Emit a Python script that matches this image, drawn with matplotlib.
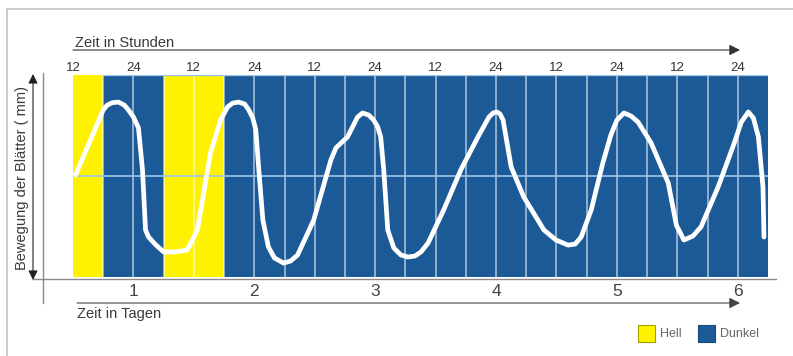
import matplotlib
matplotlib.use("Agg")
import matplotlib.pyplot as plt
from matplotlib.patches import Rectangle

plt.rcParams['font.family'] = ['Liberation Sans', 'DejaVu Sans']

# ---- data ----
hours = [12.5, 18.0, 18.8, 19.8, 21.0, 22.2, 23.0, 24.0, 25.0, 25.8, 26.4, 27.0, 28.4, 30.0,
         32.4, 34.7, 36.7, 39.3, 41.3,
         42.7, 43.7, 44.9, 46.1, 46.9, 47.7, 48.3, 48.9, 49.7, 50.8, 52.0, 53.8, 55.2, 56.6,
         59.8, 63.2, 64.2, 66.5,
         67.7, 68.5, 69.5, 70.7, 71.7, 72.5, 73.1, 73.7, 74.5, 75.7, 77.1, 78.5, 79.9, 81.1,
         82.5, 85.6, 89.0, 92.4,
         94.6, 95.4, 96.2, 96.8, 97.4, 99.0, 101.5, 105.5, 107.9, 110.3, 111.7, 112.9, 114.9,
         117.2, 118.8, 120.0,
         121.4, 122.8, 124.2, 126.8, 130.2, 131.8, 133.3, 135.1, 136.7, 140.1, 143.3, 144.7,
         146.1, 147.1, 148.1, 149.0, 149.2]
movement = [5.05, 8.27, 8.51, 8.63, 8.66, 8.51, 8.27, 7.92, 7.38, 5.30, 2.33, 1.98, 1.60, 1.24,
            1.24, 1.34, 2.33, 6.14, 7.77,
            8.42, 8.61, 8.66, 8.56, 8.27, 7.87, 7.28, 5.30, 2.82, 1.49, 0.94, 0.69, 0.79, 1.09,
            2.82, 5.79, 6.39, 6.93,
            7.52, 7.92, 8.12, 8.02, 7.77, 7.43, 6.93, 5.30, 2.33, 1.44, 1.09, 0.99, 1.04, 1.24,
            1.68, 3.32, 5.30, 6.93,
            7.92, 8.12, 8.17, 8.07, 7.77, 5.45, 3.96, 2.33, 1.83, 1.58, 1.63, 1.98, 3.32,
            5.64, 7.03, 7.77,
            8.12, 7.97, 7.67, 6.63, 4.65, 2.57, 1.83, 2.03, 2.48, 4.46, 6.63, 7.67,
            8.17, 7.87, 6.93, 4.46, 1.98]

light_periods = [(12, 18), (30, 42)]
dark_periods = [(18, 30), (42, 150)]
grid_hours = list(range(18, 150, 6))
hour_ticks = list(range(12, 145, 12))
hour_labels = ['12' if h % 24 else '24' for h in hour_ticks]
day_ticks = [24, 48, 72, 96, 120, 144]
day_labels = ['1', '2', '3', '4', '5', '6']
mid_level = 5.0

YELLOW = '#FFF200'
BLUE = '#1B5A96'
LINEBLUE = '#9cc4ea'
W, H = 793, 356

fig = plt.figure(figsize=(W / 100, H / 100), dpi=100)
fig.patch.set_facecolor('white')

# overlay for decorations (pixel coords)
ov = fig.add_axes([0, 0, 1, 1])
ov.set_xlim(0, W)
ov.set_ylim(H, 0)
ov.axis('off')

# frame lines
ov.plot([7, W], [9, 9], color='#c4c4c4', lw=1.2)
ov.plot([7, 7], [9, H], color='#c4c4c4', lw=1.2)

# top arrow
ov.annotate('', xy=(740, 50), xytext=(73, 50),
            arrowprops=dict(arrowstyle='-|>', color='#333333', lw=0.8, mutation_scale=16,
                            shrinkA=0, shrinkB=0))
ov.text(75, 43, 'Zeit in Stunden', fontsize=10.5, color='#3a3a3a', ha='left', va='center')

# bottom arrow
ov.annotate('', xy=(740, 303), xytext=(77, 303),
            arrowprops=dict(arrowstyle='-|>', color='#444444', lw=0.8, mutation_scale=16,
                            shrinkA=0, shrinkB=0))
ov.text(77, 314, 'Zeit in Tagen', fontsize=10.5, color='#3a3a3a', ha='left', va='center')

# axis lines
ov.plot([33, 776], [279, 279], color='#8a8a8a', lw=1.0)
ov.plot([43, 43], [73, 303], color='#8a8a8a', lw=1.0)

# left double arrow
ov.annotate('', xy=(33, 74), xytext=(33, 280),
            arrowprops=dict(arrowstyle='<|-|>', color='#222222', lw=0.8, mutation_scale=14,
                            shrinkA=0, shrinkB=0))
ov.text(22, 178, 'Bewegung der Blätter ( mm)', fontsize=10.5, color='#3a3a3a',
        rotation=90, ha='center', va='center')

# legend
ov.add_patch(Rectangle((638, 325), 17, 17, facecolor=YELLOW, edgecolor='#a0a000', lw=0.8))
ov.text(660, 334, 'Hell', fontsize=9, color='#666666', ha='left', va='center')
ov.add_patch(Rectangle((698, 325), 17, 17, facecolor=BLUE, edgecolor='#1a4a7a', lw=0.8))
ov.text(720, 334, 'Dunkel', fontsize=9, color='#666666', ha='left', va='center')

# main axes
ax = fig.add_axes([73 / W, 1 - 277 / H, (768 - 73) / W, (277 - 75) / H])
ax.set_xlim(12, 150)
ax.set_ylim(0, 10)
for s in ax.spines.values():
    s.set_visible(False)

for a, b in light_periods:
    ax.axvspan(a, b, color=YELLOW, lw=0, zorder=0)
for a, b in dark_periods:
    ax.axvspan(a, b, color=BLUE, lw=0, zorder=0)

for g in grid_hours:
    ax.axvline(g, color='white', alpha=0.55, lw=1.3, zorder=1)
ax.axhline(mid_level, color=LINEBLUE, lw=1.2, zorder=1)
ax.axhline(10, color=LINEBLUE, lw=1.0, zorder=1, xmin=(18 - 12) / 138)

ax.plot(hours, movement, color='white', lw=3.4, solid_joinstyle='round',
        solid_capstyle='round', zorder=3)

ax.set_yticks([])
ax.xaxis.tick_top()
ax.set_xticks(hour_ticks)
ax.set_xticklabels(hour_labels, fontsize=9.5, color='#333333')
ax.tick_params(axis='x', length=0, pad=1)

sec = ax.secondary_xaxis('bottom')
sec.set_xticks(day_ticks)
sec.set_xticklabels(day_labels, fontsize=12.5, color='#444444')
sec.tick_params(length=0, pad=5)
for s in sec.spines.values():
    s.set_visible(False)

fig.savefig('out.png', dpi=100, facecolor='white')
